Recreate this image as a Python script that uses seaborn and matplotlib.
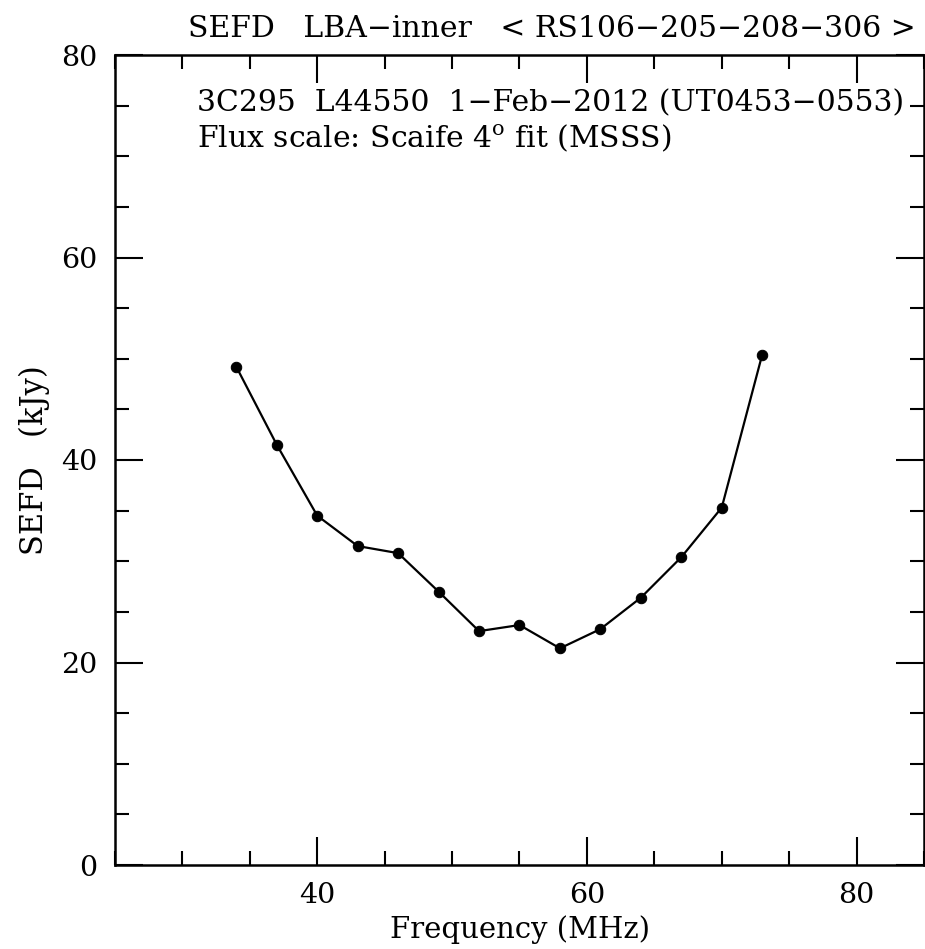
import matplotlib
matplotlib.use("Agg")
import matplotlib.pyplot as plt
import seaborn as sns
import pandas as pd
from matplotlib.ticker import MultipleLocator

freq_mhz = [34, 37, 40, 43, 46, 49, 52, 55, 58, 61, 64, 67, 70, 73]
sefd_kjy = [49.2, 41.5, 34.5, 31.5, 30.8, 27.0, 23.1, 23.7, 21.4, 23.3, 26.4, 30.4, 35.3, 50.4]

title_text = "SEFD   LBA\u2212inner   < RS106\u2212205\u2212208\u2212306 >"
line1_text = "3C295  L44550  1\u2212Feb\u22122012 (UT0453\u22120553)"
line2_text = "Flux scale: Scaife 4$^{\\mathrm{o}}$ fit (MSSS)"

df = pd.DataFrame({"freq": freq_mhz, "sefd": sefd_kjy})

sns.set_theme(style="ticks")
plt.rcParams["font.family"] = ["DejaVu Serif"]
plt.rcParams["mathtext.fontset"] = "dejavuserif"
for k in ["text.color", "axes.labelcolor", "xtick.color", "ytick.color", "axes.edgecolor"]:
    plt.rcParams[k] = "black"

fig = plt.figure(figsize=(9.25, 9.49), dpi=100)
ax = fig.add_axes([115/925, 1-865/949, (924-115)/925, (865-55)/949])

sns.lineplot(data=df, x="freq", y="sefd", ax=ax, color="black", lw=1.6,
             marker="o", markersize=7.5, markeredgecolor="black", markerfacecolor="black")

ax.set_xlim(25, 85)
ax.set_ylim(0, 80)
ax.xaxis.set_major_locator(MultipleLocator(20))
ax.xaxis.set_minor_locator(MultipleLocator(5))
ax.yaxis.set_major_locator(MultipleLocator(20))
ax.yaxis.set_minor_locator(MultipleLocator(5))
ax.tick_params(which="both", direction="in", top=True, right=True, width=1.5, color="black")
ax.tick_params(which="major", length=20)
ax.tick_params(which="minor", length=10)
ax.tick_params(axis="x", labelsize=20.5, pad=12)
ax.tick_params(axis="y", labelsize=20.5, pad=13)
for s in ax.spines.values():
    s.set_linewidth(1.8)
    s.set_color("black")

ax.set_xlabel("Frequency (MHz)", fontsize=21, labelpad=5)
ax.set_ylabel("SEFD   (kJy)", fontsize=22, labelpad=8)

fig.text(916/925, 1-29/949, title_text, ha="right", va="center", fontsize=21.5)
fig.text(197/925, 1-103/949, line1_text, ha="left", va="center", fontsize=21.5)
fig.text(197/925, 1-138/949, line2_text, ha="left", va="center", fontsize=21.5)

fig.savefig("out.png", dpi=100)
